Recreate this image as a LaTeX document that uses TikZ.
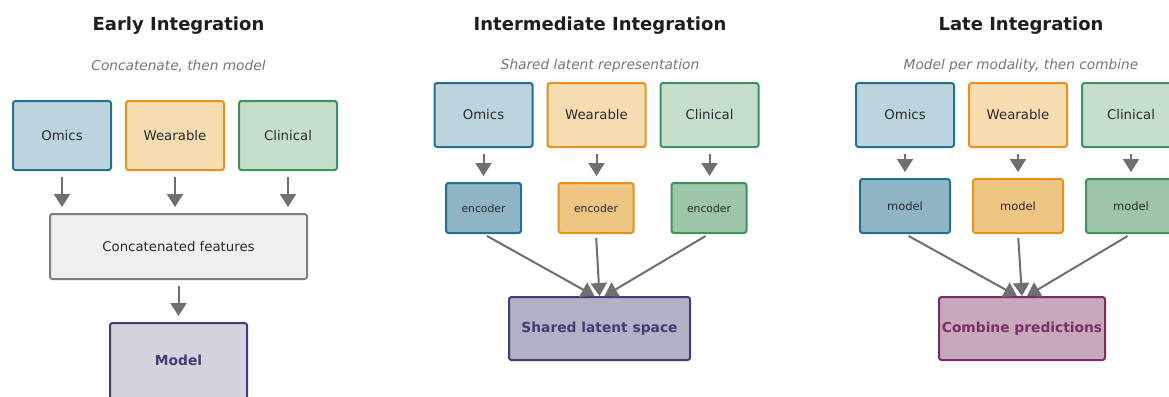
\documentclass[tikz,border=0pt]{standalone}
\usepackage{fontspec}
\setmainfont{DejaVu Sans}
\usetikzlibrary{arrows.meta}

% modality palette
\definecolor{omS}{HTML}{22718F}
\definecolor{omF}{HTML}{BCD4DE}
\definecolor{omE}{HTML}{8FB5C5}
\definecolor{weS}{HTML}{E8921C}
\definecolor{weF}{HTML}{F5DCB1}
\definecolor{weE}{HTML}{EFC584}
\definecolor{clS}{HTML}{3F925F}
\definecolor{clF}{HTML}{C6DFCD}
\definecolor{clE}{HTML}{9DC6A9}
% fusion boxes
\definecolor{grS}{HTML}{7F7F7F}
\definecolor{grF}{HTML}{F0F0F0}
\definecolor{nvS}{HTML}{3F3D73}
\definecolor{nvF}{HTML}{D3D3DE}
\definecolor{nvD}{HTML}{B1B2C8}
\definecolor{mgS}{HTML}{7B2D63}
\definecolor{mgF}{HTML}{C8A8BD}
% text and connectors
\definecolor{txt}{HTML}{2B2B2B}
\definecolor{ttl}{HTML}{1E1E1E}
\definecolor{sub}{HTML}{767676}
\definecolor{arr}{HTML}{6F6F6F}

\tikzset{
  box/.style={draw, line width=2pt, rounded corners=2.5pt, inner sep=0pt,
    text=txt, font=\fontsize{13.3}{15}\selectfont},
  omics/.style={box, draw=omS, fill=omF},
  wear/.style={box, draw=weS, fill=weF},
  clin/.style={box, draw=clS, fill=clF},
  omicsD/.style={box, draw=omS, fill=omE},
  wearD/.style={box, draw=weS, fill=weE},
  clinD/.style={box, draw=clS, fill=clE},
  srcbox/.style={minimum width=98pt, minimum height=64pt},
  encbox/.style={minimum width=75pt, minimum height=50pt, font=\fontsize{10.8}{13}\selectfont},
  mdlbox/.style={minimum width=90pt, minimum height=54pt, font=\fontsize{11.5}{13}\selectfont},
  fusebold/.style={box, font=\fontsize{13.8}{16}\bfseries},
  paneltitle/.style={text=ttl, font=\fontsize{18}{21}\bfseries, inner sep=0pt},
  panelsub/.style={text=sub, font=\fontsize{13.7}{15}\itshape, inner sep=0pt},
  flow/.style={draw=arr, line width=2pt,
    -{Triangle[width=16pt,length=13pt]}},
}

\begin{document}
\begin{tikzpicture}[x=1pt, y=-1pt]
\clip (0,0) rectangle (1169,396);
\fill[white] (0,0) rectangle (1169,396);

% ---------------- Early integration ----------------
\node[paneltitle] (t1) at (178.5,25.5) {Early Integration};
\node[panelsub] (s1) at (178.5,66) {Concatenate, then model};
\node[omics, srcbox, minimum height=69pt] (e1) at (62,135.5) {Omics};
\node[wear,  srcbox, minimum height=69pt] (e2) at (175,135.5) {Wearable};
\node[clin,  srcbox, minimum height=69pt] (e3) at (288,135.5) {Clinical};
\node[box, draw=grS, fill=grF, minimum width=257pt, minimum height=65pt] (cf) at (178.5,246.5) {Concatenated features};
\node[fusebold, draw=nvS, fill=nvF, text=nvS, minimum width=137pt, minimum height=78pt] (m1) at (178.5,362) {};
\node[text=nvS, font=\fontsize{13.8}{16}\bfseries, inner sep=0pt] (m1t) at (178.5,360) {Model};
\foreach \s in {e1,e2,e3}
  \draw[flow, shorten <=6pt, shorten >=6pt] (\s.south) -- (\s.south |- cf.north);
\draw[flow, shorten <=6pt, shorten >=6pt] (cf.south) -- (cf.south |- m1.north);

% ---------------- Intermediate integration ----------------
\node[paneltitle] (t2) at (600,25.5) {Intermediate Integration};
\node[panelsub] (s2) at (600,66) {Shared latent representation};
\node[omics, srcbox] (i1) at (483.5,115) {Omics};
\node[wear,  srcbox] (i2) at (596.5,115) {Wearable};
\node[clin,  srcbox] (i3) at (709.5,115) {Clinical};
\node[omicsD, encbox] (n1) at (483.5,208) {encoder};
\node[wearD,  encbox] (n2) at (596,208) {encoder};
\node[clinD,  encbox] (n3) at (709,208) {encoder};
\node[fusebold, draw=nvS, fill=nvD, text=nvS, minimum width=181pt, minimum height=63pt] (sl) at (599.5,328.5) {Shared latent space};
\foreach \a/\b in {i1/n1,i2/n2,i3/n3}
  \draw[flow, shorten <=6pt, shorten >=6pt] (\a.south) -- (\a.south |- \b.north);
\coordinate (sl1) at ([xshift=-5pt]sl.north);
\coordinate (sl3) at ([xshift=5pt]sl.north);
\draw[flow, shorten <=4pt] (n1.south) -- (sl1);
\draw[flow, shorten <=4pt] (n2.south) -- (sl.north);
\draw[flow, shorten <=4pt] (n3.south) -- (sl3);

% ---------------- Late integration ----------------
\node[paneltitle] (t3) at (1021,25.5) {Late Integration};
\node[panelsub] (s3) at (1021,66) {Model per modality, then combine};
\node[omics, srcbox] (l1) at (905,115) {Omics};
\node[wear,  srcbox] (l2) at (1018,115) {Wearable};
\node[clin,  srcbox] (l3) at (1131,115) {Clinical};
\node[omicsD, mdlbox] (d1) at (905,206) {model};
\node[wearD,  mdlbox] (d2) at (1018,206) {model};
\node[clinD,  mdlbox] (d3) at (1131,206) {model};
\node[fusebold, draw=mgS, fill=mgF, text=mgS, minimum width=166pt, minimum height=63pt] (cp) at (1022,328.5) {Combine predictions};
\foreach \a/\b in {l1/d1,l2/d2,l3/d3}
  \draw[flow, shorten <=6pt, shorten >=6pt] (\a.south) -- (\a.south |- \b.north);
\coordinate (cp1) at ([xshift=-5pt]cp.north);
\coordinate (cp3) at ([xshift=5pt]cp.north);
\draw[flow, shorten <=4pt] (d1.south) -- (cp1);
\draw[flow, shorten <=4pt] (d2.south) -- (cp.north);
\draw[flow, shorten <=4pt] (d3.south) -- (cp3);
\end{tikzpicture}
\end{document}
